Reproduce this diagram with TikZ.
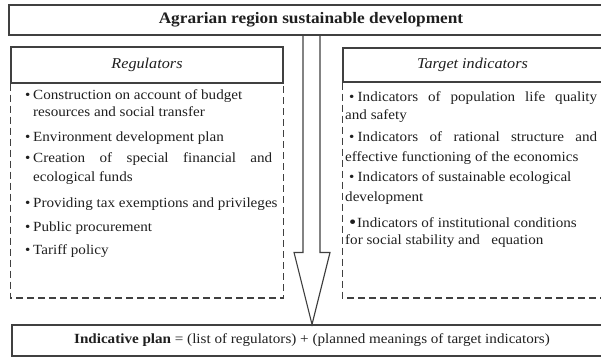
\documentclass[tikz,border=0pt]{standalone}
\usepackage{fontspec}
\setmainfont{Liberation Serif}[FakeStretch=1.08]
\usetikzlibrary{calc}
\definecolor{lc}{gray}{0.25}
\definecolor{tc}{gray}{0.12}
\newcommand{\rbul}{\makebox[8pt][l]{\textbullet}}
\newcommand{\tbul}{\makebox[8.5pt][l]{\textbullet}}
\newcommand{\tbig}{\makebox[8pt][l]{\fontsize{19}{19}\selectfont\raisebox{-1.2pt}{\textbullet}}}
\begin{document}
\begin{tikzpicture}[x=1pt,y=-1pt,
  box/.style={draw=lc, line width=1.1pt, fill=white, inner sep=0pt, text=tc,
    font=\fontsize{14}{17}\selectfont},
  dbox/.style={draw=lc, line width=1.1pt, dash pattern=on 7pt off 4pt},
  arrowst/.style={draw=lc, line width=1.1pt, line join=miter},
  ln/.style={anchor=base west, inner sep=0pt, text=tc, font=\fontsize{14}{17}\selectfont}]
\useasboundingbox (0,0) rectangle (601,357);
% top box
\node[box, minimum width=604, minimum height=30, font=\fontsize{16}{19}\selectfont\bfseries] (top) at (311,20) {Agrarian region sustainable development};
% headers
\node[box, minimum width=272, minimum height=36, font=\fontsize{15}{17}\selectfont\itshape] (regh) at (147,65) {Regulators};
\node[box, minimum width=259, minimum height=34, font=\fontsize{15}{17}\selectfont\itshape] (tarh) at (472.5,65) {Target indicators};
% dashed bodies
\coordinate (dl) at (0,298);
\draw[dbox] (regh.south west) -- (regh.south west |- dl) -- (regh.south east |- dl) -- (regh.south east);
\draw[dbox] (tarh.south west) -- (tarh.south west |- dl) -- (610,298);
% bottom box
\node[box, minimum width=600, minimum height=31, font=\fontsize{14}{17}\selectfont] (bot) at (312,340.5) {\textbf{Indicative plan} = (list of regulators) + (planned meanings of target indicators)};
% arrow
\coordinate (tip) at (bot.north);
\coordinate (sl) at ($(tip)+(-9,0)$);
\coordinate (sr) at ($(tip)+(8,0)$);
\draw[arrowst] (sl |- top.south) -- ($(tip)+(-9,-72)$) -- ($(tip)+(-18,-72)$) -- (tip)
  -- ($(tip)+(18,-72)$) -- ($(tip)+(8,-72)$) -- (sr |- top.south);
% regulators items
\node[ln] (r1a) at (25,99) {\rbul Construction on account of budget};
\node[ln] (r1b) at (33,116) {resources and social transfer};
\node[ln] (r2) at (25,141) {\rbul Environment development plan};
\node[ln] (r3a) at (25,162) {\makebox[247pt][s]{\rbul Creation of special financial and}};
\node[ln] (r3b) at (33,181) {ecological funds};
\node[ln] (r4) at (25,207) {\rbul Providing tax exemptions and privileges};
\node[ln] (r5) at (25,231) {\rbul Public procurement};
\node[ln] (r6) at (25,254) {\rbul Tariff policy};
% target items
\node[ln] (t1a) at (349,101) {\makebox[248pt][s]{\tbul Indicators of population life quality}};
\node[ln] (t1b) at (345,119) {and safety};
\node[ln] (t2a) at (349,141) {\makebox[248pt][s]{\tbul Indicators of rational structure and}};
\node[ln] (t2b) at (345,161) {effective functioning of the economics};
\node[ln] (t3a) at (349,181) {\tbul Indicators of sustainable ecological};
\node[ln] (t3b) at (345,201) {development};
\node[ln] (t4a) at (349,227) {\tbig Indicators of institutional conditions};
\node[ln] (t4b) at (345,244) {for social stability and \ \ equation};
\end{tikzpicture}
\end{document}
